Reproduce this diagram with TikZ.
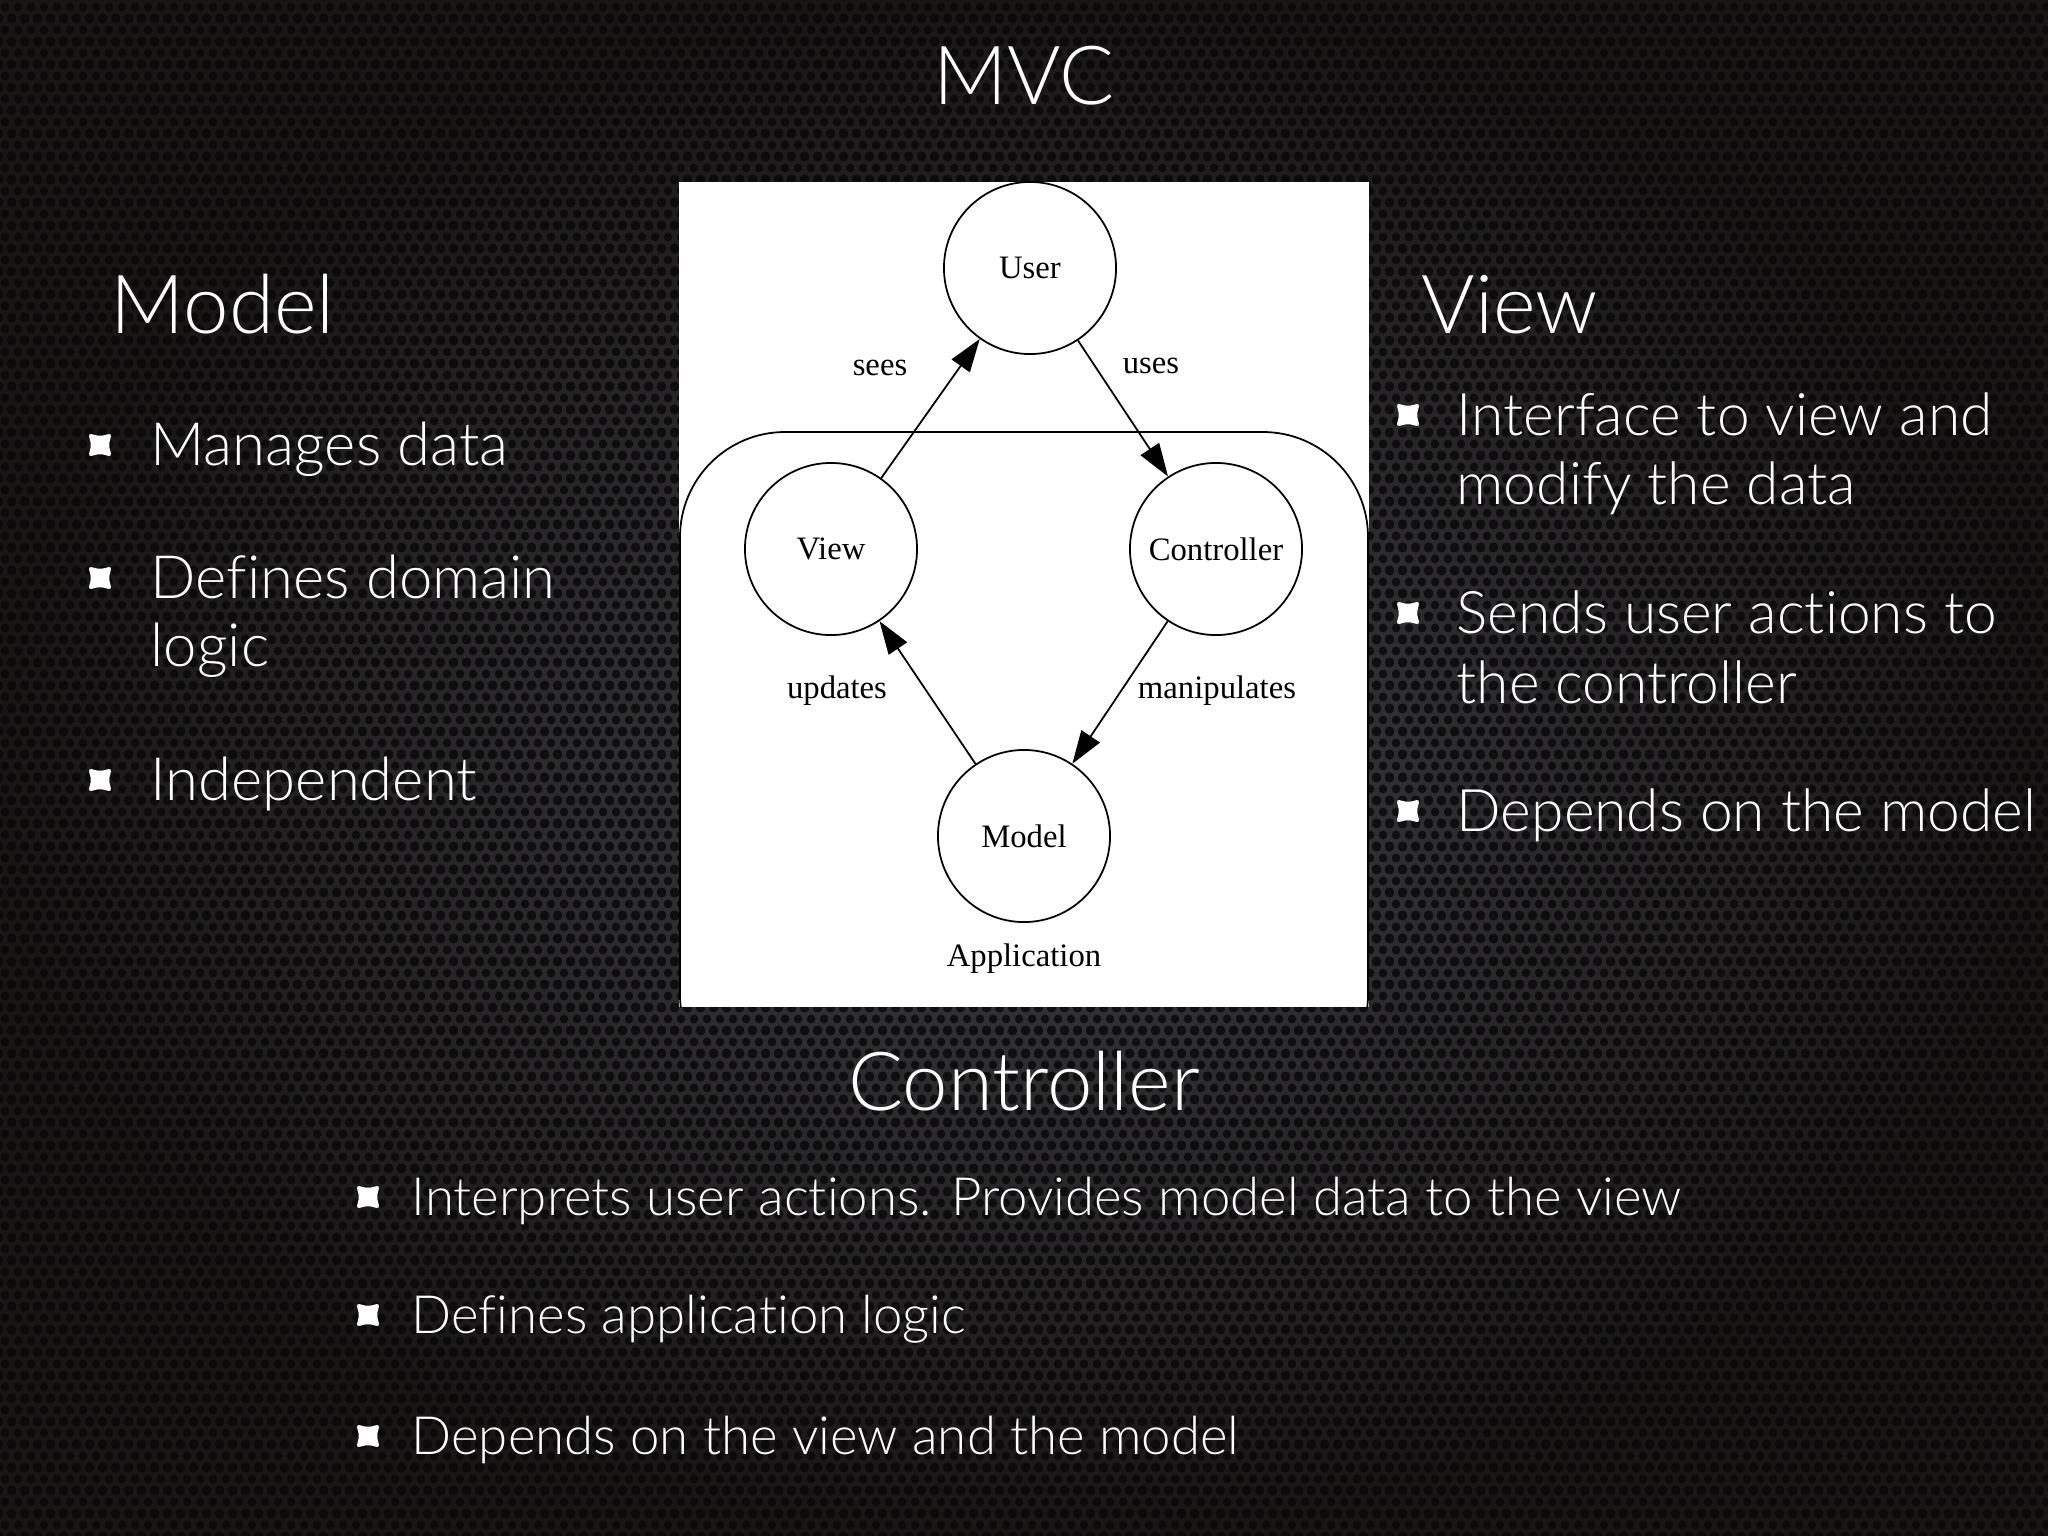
\documentclass[tikz,border=0pt]{standalone}
\usepackage{fontspec}
\setmainfont{Lato}[UprightFont={* Light}, Ligatures=NoCommon]
\newfontfamily\diafont{Liberation Serif}
\usetikzlibrary{positioning,arrows.meta,patterns.meta}

\definecolor{bgmid}{RGB}{60,60,64}
\definecolor{bgdark}{RGB}{24,21,21}
\definecolor{holecol}{RGB}{8,7,8}

\tikzdeclarepattern{
    name=holes, type=uncolored,
    bottom left={(0pt,0pt)}, top right={(3.7pt,6.4pt)},
    tile size={(3.7pt,6.4pt)},
    code={
        \fill (0pt,0pt) circle (1.3pt);
        \fill (3.7pt,0pt) circle (1.3pt);
        \fill (0pt,6.4pt) circle (1.3pt);
        \fill (3.7pt,6.4pt) circle (1.3pt);
        \fill (1.85pt,3.2pt) circle (1.3pt);
    }
}

\begin{document}
\begin{tikzpicture}
% Style
[
    x=.01cm, y=-.01cm,
    heading/.style={text=white, inner sep=0, font=\fontsize{23.2}{28}\selectfont},
    item/.style={text=white, inner sep=0, anchor=base west, font=\fontsize{17}{20}\selectfont},
    rightitem/.style={item, font=\fontsize{16.7}{20}\selectfont},
    lowitem/.style={item, font=\fontsize{15}{18}\selectfont},
    state/.style={draw, circle, minimum size=1.72cm, inner sep=0, line width=.5pt,
        font=\diafont\fontsize{9.3}{11}\selectfont},
    lbl/.style={inner sep=0, font=\diafont\fontsize{9.3}{11}\selectfont},
    flow/.style={draw, line width=.5pt, -{Triangle[length=.33cm, width=.22cm]}},
    bul/.pic={
        \fill[white] (-5,-10) .. controls (-2,-9) and (2,-9) .. (5,-10)
            .. controls (11,-12) and (12,-11) .. (10,-5)
            .. controls (9,-2) and (9,2) .. (10,5)
            .. controls (12,11) and (11,12) .. (5,10)
            .. controls (2,9) and (-2,9) .. (-5,10)
            .. controls (-11,12) and (-12,11) .. (-10,5)
            .. controls (-9,2) and (-9,-2) .. (-10,-5)
            .. controls (-12,-11) and (-11,-12) .. (-5,-10) -- cycle;
    }
]

%=================================== Start ===================================
\useasboundingbox (0,0) rectangle (2048,1536);
\shade[inner color=bgmid, outer color=bgdark] (0,0) rectangle (2048,1536);
\fill[pattern=holes, pattern color=holecol, opacity=.8] (0,0) rectangle (2048,1536);

% titles
\node[heading, anchor=base] (mvc) at (1024,104) {MVC};
\node[heading, anchor=base west] (h-model) at (110,333) {Model};
\node[heading, anchor=base west] (h-view) at (1421,333) {View};
\node[heading, anchor=base] (h-ctrl) at (1024,1110) {Controller};

% model column
\foreach \t/\y [count=\i] in {Manages data/465, Defines domain/598, logic/666, Independent/800} {
    \node[item] (model-\i) at (150,\y) {\t};
}
\foreach \y in {445,578,780} \pic at (100,\y) {bul};

% view column
\foreach \t/\y [count=\i] in {Interface to view and/435, modify the data/504,
    Sends user actions to/633, the controller/703, Depends on the model/831} {
    \node[rightitem] (view-\i) at (1456,\y) {\t};
}
\foreach \y in {415,613,811} \pic at (1408,\y) {bul};

% controller rows
\foreach \t/\y [count=\i] in {{Interprets user actions. Provides model data to the view}/1215,
    Defines application logic/1333, Depends on the view and the model/1454} {
    \node[lowitem] (ctrl-\i) at (411,\y) {\t};
    \pic at (368,\y-18) {bul};
}

% diagram
\fill[white] (679,182) rectangle (1369,1007);
\begin{scope}
    \clip (679,182) rectangle (1369,1007);
    \draw[line width=.5pt, rounded corners=1.05cm] (680,432) rectangle (1368,1100);
\end{scope}

\node[state] (user) at (1030,268) {User};
\node[state] (view) at (831,549) {View};
\node[state] (controller) at (1216,549) {Controller};
\node[state] (model) at (1024,836) {Model};

\path (view) edge[flow] (user);
\path (user) edge[flow] (controller);
\path (controller) edge[flow] (model);
\path (model) edge[flow] (view);

\node[lbl] (l-sees) at (880,368) {sees};
\node[lbl] (l-uses) at (1151,366) {uses};
\node[lbl] (l-updates) at (837,691) {updates};
\node[lbl] (l-manip) at (1217,691) {manipulates};
\node[lbl] (l-app) at (1024,959) {Application};
%==================================== END ====================================

\end{tikzpicture}
\end{document}
